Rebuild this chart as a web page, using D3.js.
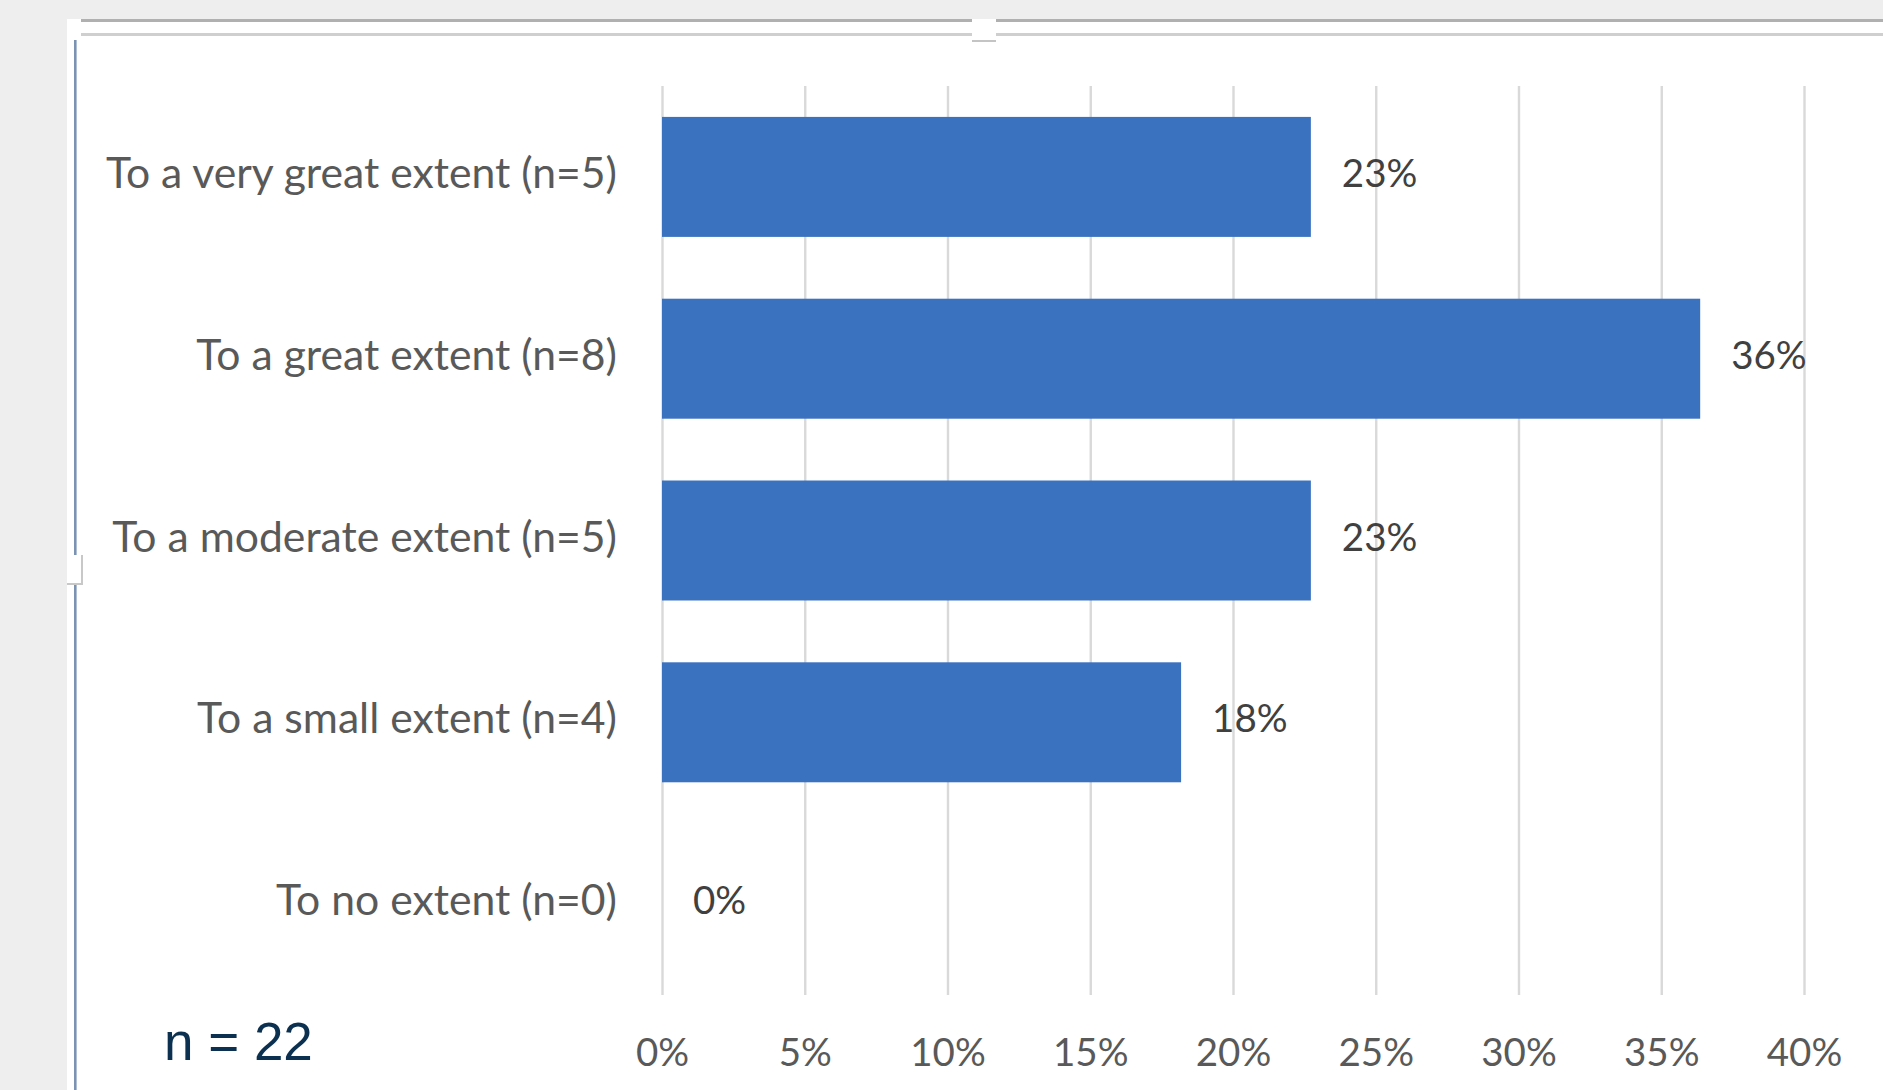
<!DOCTYPE html>
<html>
<head>
<meta charset="utf-8">
<script src="https://cdn.jsdelivr.net/npm/d3@7"></script>
<style>
  html, body { margin: 0; padding: 0; background: #eeeeee; }
  svg { display: block; }
</style>
</head>
<body>
<svg id="chart" width="1883" height="1090"></svg>
<script>
const categories = [
  "To a very great extent (n=5)",
  "To a great extent (n=8)",
  "To a moderate extent (n=5)",
  "To a small extent (n=4)",
  "To no extent (n=0)"
];
const counts = [5, 8, 5, 4, 0];
const total = 22;
const values = counts.map(c => c / total);
const tickValues = [0, 0.05, 0.10, 0.15, 0.20, 0.25, 0.30, 0.35, 0.40];
const tickLabels = ["0%", "5%", "10%", "15%", "20%", "25%", "30%", "35%", "40%"];
const noteText = "n = 22";

const svg = d3.select("#chart");
const W = 1883, H = 1090;

// Background and frame (document/chart container)
svg.append("rect").attr("x", 0).attr("y", 0).attr("width", W).attr("height", H).attr("fill", "#eeeeee");
svg.append("rect").attr("x", 67).attr("y", 19).attr("width", W - 67).attr("height", H - 19).attr("fill", "#ffffff");
svg.append("rect").attr("x", 81).attr("y", 19).attr("width", W - 81).attr("height", 3).attr("fill", "#b0b0b0");
svg.append("rect").attr("x", 81).attr("y", 33).attr("width", W - 81).attr("height", 3).attr("fill", "#cfcfcf");
svg.append("rect").attr("x", 74).attr("y", 40).attr("width", 2.6).attr("height", H - 40).attr("fill", "#7b93b3");

// handles
svg.append("rect").attr("x", 67).attr("y", 19).attr("width", 14).attr("height", 21).attr("fill", "#ffffff");
svg.append("rect").attr("x", 972).attr("y", 38).attr("width", 24).attr("height", 4).attr("fill", "#c4c4c4");
svg.append("rect").attr("x", 972).attr("y", 19).attr("width", 24).attr("height", 21).attr("fill", "#ffffff");
svg.append("rect").attr("x", 67).attr("y", 555).attr("width", 16).attr("height", 30).attr("fill", "#c8c8c8");
svg.append("rect").attr("x", 67).attr("y", 555).attr("width", 14).attr("height", 28).attr("fill", "#ffffff");

// Scales
const x = d3.scaleLinear().domain([0, 0.4]).range([662, 1804]);
const y = d3.scaleBand().domain(categories).range([86, 995]).paddingInner(0.34).paddingOuter(0.17);

// Gridlines via axis
const gridAxis = d3.axisBottom(x).tickValues(tickValues).tickSize(909).tickFormat("");
const grid = svg.append("g").attr("transform", "translate(0,86)").call(gridAxis);
grid.select(".domain").remove();
grid.selectAll(".tick line").attr("stroke", "#d9d9d9").attr("stroke-width", 2.4);

// Tick labels via axis
const labelAxis = d3.axisBottom(x).tickValues(tickValues).tickSize(0)
  .tickFormat((d, i) => tickLabels[i]);
const ax = svg.append("g").attr("transform", "translate(0,1066)").call(labelAxis);
ax.select(".domain").remove();
ax.selectAll(".tick text")
  .attr("y", 0).attr("dy", 0)
  .attr("fill", "#595959")
  .style("font-family", "Lato, 'Open Sans', sans-serif")
  .style("font-size", "38.5px");

// Bars
svg.append("g").selectAll("rect")
  .data(values)
  .join("rect")
  .attr("x", x(0))
  .attr("y", (d, i) => y(categories[i]))
  .attr("width", d => x(d) - x(0))
  .attr("height", y.bandwidth())
  .attr("fill", "#3a72c0");

// Category labels
svg.append("g").selectAll("text")
  .data(categories)
  .join("text")
  .attr("x", 617)
  .attr("y", d => y(d) + y.bandwidth() / 2 + 11)
  .attr("text-anchor", "end")
  .attr("fill", "#595959")
  .style("font-family", "Lato, 'Open Sans', sans-serif")
  .style("font-size", "42.7px")
  .text(d => d);

// Data labels
svg.append("g").selectAll("text")
  .data(values)
  .join("text")
  .attr("x", d => x(d) + 31)
  .attr("y", (d, i) => y(categories[i]) + y.bandwidth() / 2 + 10)
  .attr("fill", "#404040")
  .style("font-family", "Lato, 'Open Sans', sans-serif")
  .style("font-size", "38.5px")
  .text(d => Math.round(d * 100) + "%");

// Note
svg.append("text")
  .attr("x", 164)
  .attr("y", 1060)
  .attr("fill", "#0b3050")
  .style("font-family", "'Liberation Sans', Arial, sans-serif")
  .style("font-size", "53px")
  .text(noteText);
</script>
</body>
</html>
